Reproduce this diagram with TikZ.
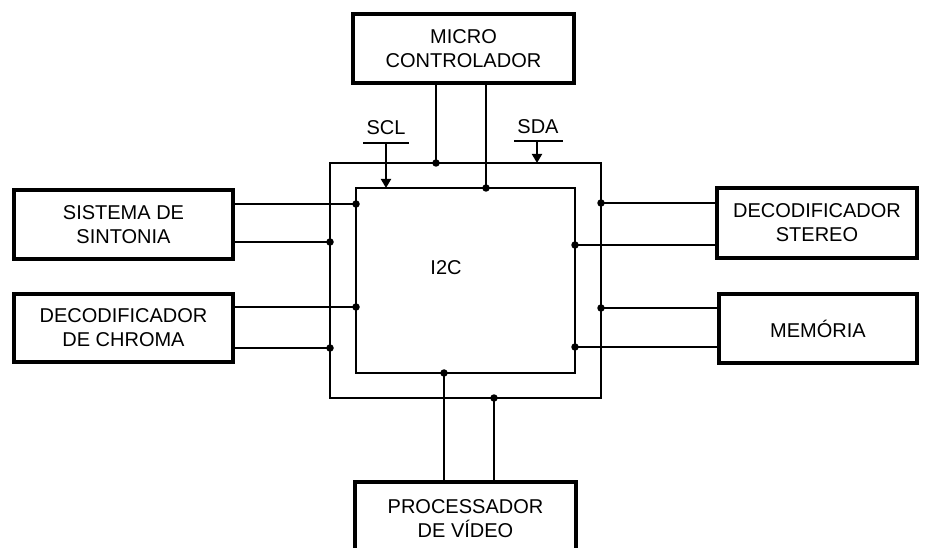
\documentclass[tikz,border=0pt]{standalone}
\usepackage{fontspec}
\setmainfont{Liberation Sans}
\usetikzlibrary{arrows.meta}
\begin{document}
\begin{tikzpicture}[x=1pt,y=-1pt,
  box/.style={draw,line width=3.4pt,inner sep=0,outer sep=0,align=center,
    font=\fontsize{20}{24}\selectfont},
  frame/.style={draw,line width=1.8pt,inner sep=0,outer sep=0},
  wire/.style={line width=1.8pt},
  txt/.style={inner sep=0,font=\fontsize{20}{24}\selectfont},
  dotn/.style={circle,fill,inner sep=0,minimum size=7.5pt},
  tip/.style={-{Triangle[length=9pt,width=10pt]}}]
\useasboundingbox (0,0) rectangle (930,548);
\begin{scope}
\clip (0,0) rectangle (930,548);
% blocks
\node[box,minimum width=221pt,minimum height=69pt] (mic) at (463.5,48.5) {MICRO\\CONTROLADOR};
\node[box,minimum width=219pt,minimum height=69pt] (sis) at (123.5,224.5) {SISTEMA DE\\SINTONIA};
\node[box,minimum width=219pt,minimum height=68pt] (chr) at (123.5,328) {DECODIFICADOR\\DE CHROMA};
\node[box,minimum width=200pt,minimum height=70pt] (ste) at (817,223) {DECODIFICADOR\\STEREO};
\node[box,minimum width=198pt,minimum height=69pt] (mem) at (818,328.5) {MEMÓRIA};
\node[box,minimum width=221pt,minimum height=73pt] (pro) at (465.5,518.5) {PROCESSADOR\\DE VÍDEO};
% bus frames
\node[frame,minimum width=271pt,minimum height=235pt] (outer) at (465.5,280.5) {};
\node[frame,minimum width=219pt,minimum height=185pt] (inner) at (465.5,280.5) {};
\node[txt] (i2c) at (446,268) {I2C};
% micro controller
\draw[wire] (mic.south -| 436,0) -- (outer.north -| 436,0) node[dotn] {};
\draw[wire] (mic.south -| 486,0) -- (inner.north -| 486,0) node[dotn] {};
% left
\draw[wire] (sis.east |- 0,204) -- (inner.west |- 0,204) node[dotn] {};
\draw[wire] (sis.east |- 0,242) -- (outer.west |- 0,242) node[dotn] {};
\draw[wire] (chr.east |- 0,307) -- (inner.west |- 0,307) node[dotn] {};
\draw[wire] (chr.east |- 0,348) -- (outer.west |- 0,348) node[dotn] {};
% right
\draw[wire] (ste.west |- 0,203) -- (outer.east |- 0,203) node[dotn] {};
\draw[wire] (ste.west |- 0,245) -- (inner.east |- 0,245) node[dotn] {};
\draw[wire] (mem.west |- 0,308) -- (outer.east |- 0,308) node[dotn] {};
\draw[wire] (mem.west |- 0,347) -- (inner.east |- 0,347) node[dotn] {};
% bottom
\draw[wire] (pro.north -| 444,0) -- (inner.south -| 444,0) node[dotn] {};
\draw[wire] (pro.north -| 494,0) -- (outer.south -| 494,0) node[dotn] {};
% SCL / SDA
\node[txt] (scl) at (386,128) {SCL};
\coordinate (sclL) at (363,143);
\coordinate (sclR) at (409,143);
\coordinate (sclM) at (386,143);
\draw[wire] (sclL) -- (sclR);
\draw[wire,tip] (sclM) -- (inner.north -| sclM);
\node[txt] (sda) at (538,127) {SDA};
\coordinate (sdaL) at (514,141);
\coordinate (sdaR) at (563,141);
\coordinate (sdaM) at (537,141);
\draw[wire] (sdaL) -- (sdaR);
\draw[wire,tip] (sdaM) -- (outer.north -| sdaM);
\end{scope}
\end{tikzpicture}
\end{document}
